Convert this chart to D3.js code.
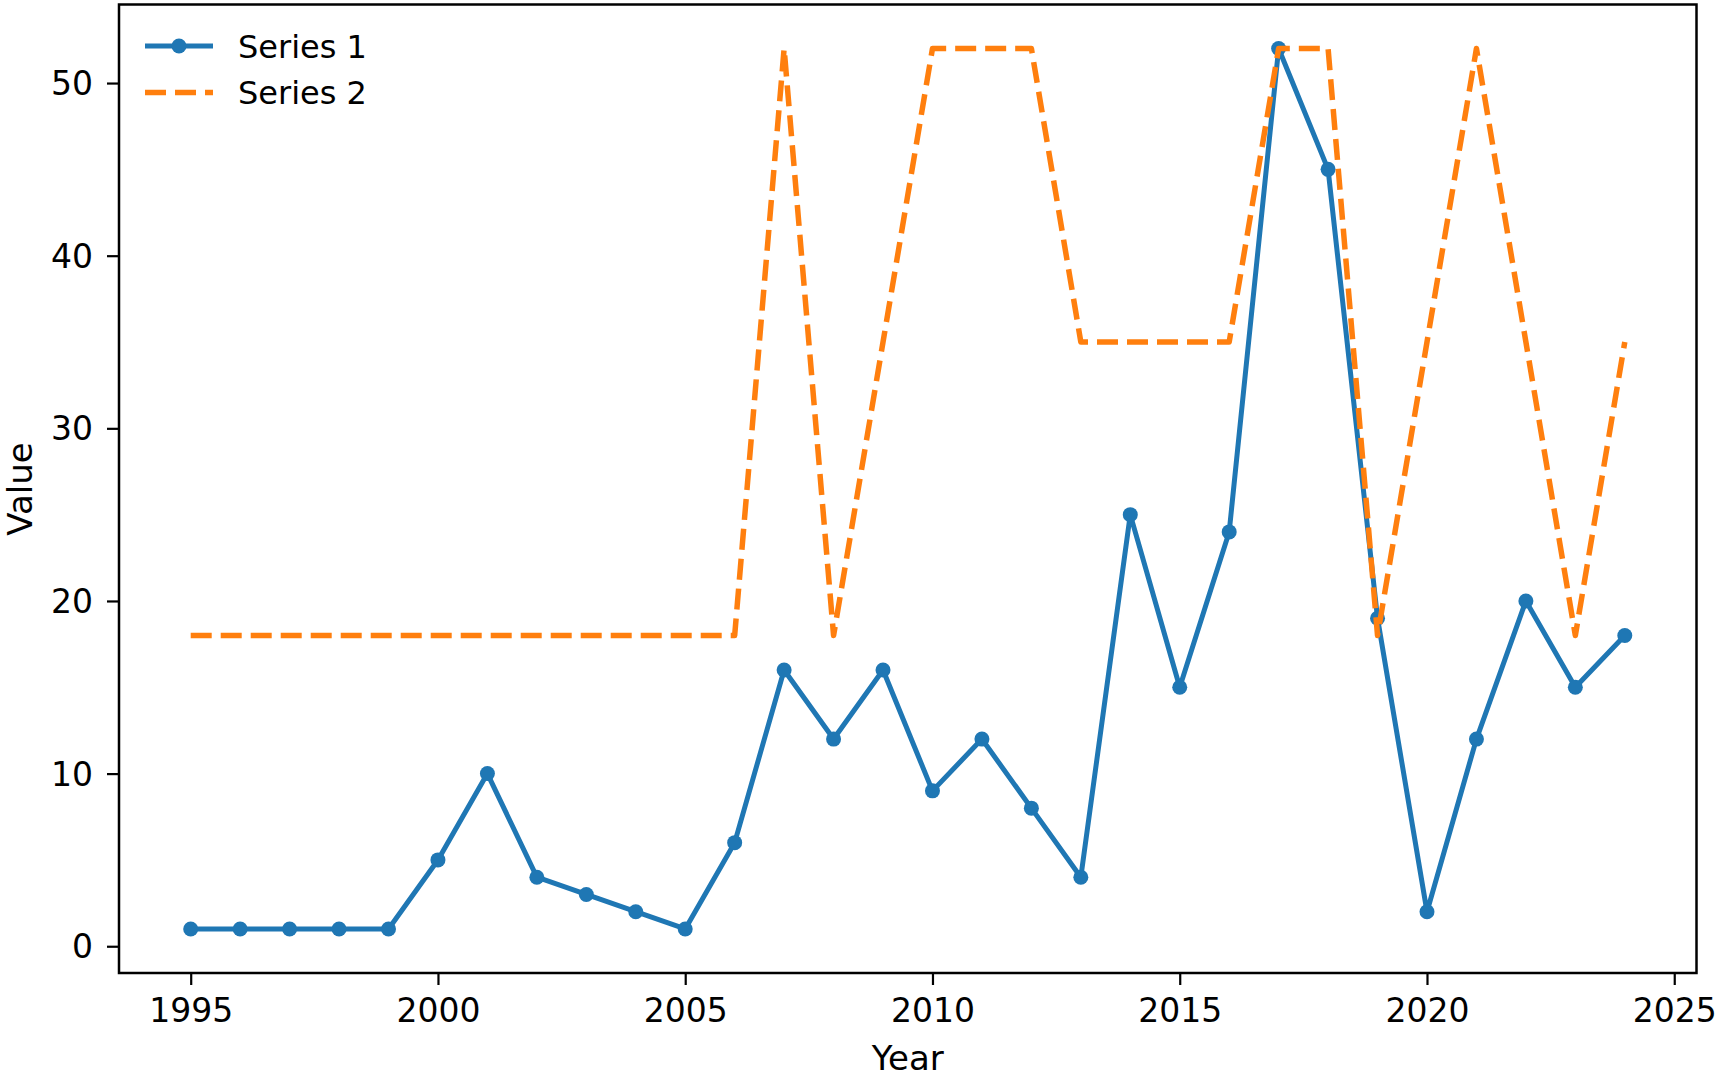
<!DOCTYPE html>
<html>
<head>
<meta charset="utf-8">
<script src="https://cdn.jsdelivr.net/npm/d3@7"></script>
<style>
  html, body { margin: 0; padding: 0; background: #fff; }
  svg { display: block; font-family: "DejaVu Sans", sans-serif; }
</style>
</head>
<body>
<svg id="chart" width="1715" height="1075"></svg>
<script>
// Data
const years = [1995, 1996, 1997, 1998, 1999, 2000, 2001, 2002, 2003, 2004,
  2005, 2006, 2007, 2008, 2009, 2010, 2011, 2012, 2013, 2014,
  2015, 2016, 2017, 2018, 2019, 2020, 2021, 2022, 2023, 2024];
const series1 = [1, 1, 1, 1, 1, 5, 10, 4, 3, 2,
  1, 6, 16, 12, 16, 9, 12, 8, 4, 25,
  15, 24, 52, 45, 19, 2, 12, 20, 15, 18];
const series2 = [18, 18, 18, 18, 18, 18, 18, 18, 18, 18,
  18, 18, 52, 18, 35, 52, 52, 52, 35, 35,
  35, 35, 52, 52, 18, 35, 52, 35, 18, 35];
const xTicks = [1995, 2000, 2005, 2010, 2015, 2020, 2025];
const yTicks = [0, 10, 20, 30, 40, 50];
const seriesNames = ['Series 1', 'Series 2'];

const blue = '#1f77b4';
const orange = '#ff7f0e';

const margin = { top: 4.5, right: 18.5, bottom: 102, left: 119 };
const width = 1715 - margin.left - margin.right;
const height = 1075 - margin.top - margin.bottom;

const svg = d3.select('#chart');
const g = svg.append('g')
  .attr('transform', `translate(${margin.left},${margin.top})`);

// matplotlib-style 5% padding on both axes
const xPad = (d3.max(years) - d3.min(years)) * 0.05;
const yMin = d3.min(series1.concat(series2));
const yMax = d3.max(series1.concat(series2));
const yPad = (yMax - yMin) * 0.05;

const x = d3.scaleLinear()
  .domain([d3.min(years) - xPad, d3.max(years) + xPad])
  .range([0, width]);

const y = d3.scaleLinear()
  .domain([yMin - yPad, yMax + yPad])
  .range([height, 0]);

// axes
const xAxis = g.append('g')
  .attr('transform', `translate(0,${height})`)
  .call(d3.axisBottom(x).tickValues(xTicks).tickFormat(d3.format('d'))
    .tickSize(12).tickPadding(14));

const yAxis = g.append('g')
  .call(d3.axisLeft(y).tickValues(yTicks).tickSize(12).tickPadding(14));

[xAxis, yAxis].forEach(a => {
  a.select('.domain').remove();
  a.selectAll('line').attr('stroke', '#000').attr('stroke-width', 2.2);
  a.selectAll('text')
    .attr('fill', '#000')
    .style('font-size', '33px')
    .style('font-family', '"DejaVu Sans", sans-serif');
});
yAxis.selectAll('text').attr('dy', '0.35em');

// plot frame
g.append('rect')
  .attr('x', 0).attr('y', 0)
  .attr('width', width).attr('height', height)
  .attr('fill', 'none')
  .attr('stroke', '#000')
  .attr('stroke-width', 2.5);

const line = d3.line()
  .x(d => x(d[0]))
  .y(d => y(d[1]));

const pts1 = years.map((yr, i) => [yr, series1[i]]);
const pts2 = years.map((yr, i) => [yr, series2[i]]);

// Series 1: solid with dots
g.append('path')
  .datum(pts1)
  .attr('d', line)
  .attr('fill', 'none')
  .attr('stroke', blue)
  .attr('stroke-width', 5)
  .attr('stroke-linejoin', 'round');

g.selectAll('.dot')
  .data(pts1)
  .enter()
  .append('circle')
  .attr('class', 'dot')
  .attr('cx', d => x(d[0]))
  .attr('cy', d => y(d[1]))
  .attr('r', 7.5)
  .attr('fill', blue);

// Series 2: dashed
g.append('path')
  .datum(pts2)
  .attr('d', line)
  .attr('fill', 'none')
  .attr('stroke', orange)
  .attr('stroke-width', 5.5)
  .attr('stroke-dasharray', '21,9')
  .attr('stroke-linejoin', 'round');

// axis labels
svg.append('text')
  .attr('x', margin.left + width / 2)
  .attr('y', 1070)
  .attr('text-anchor', 'middle')
  .style('font-size', '34px')
  .text('Year');

svg.append('text')
  .attr('transform', 'translate(32,489) rotate(-90)')
  .attr('text-anchor', 'middle')
  .style('font-size', '34px')
  .text('Value');

// legend
const legend = svg.append('g');
const rows = [46, 92.5];

legend.append('line')
  .attr('x1', 145).attr('x2', 213)
  .attr('y1', rows[0]).attr('y2', rows[0])
  .attr('stroke', blue).attr('stroke-width', 5);
legend.append('circle')
  .attr('cx', 179).attr('cy', rows[0]).attr('r', 7.5)
  .attr('fill', blue);

legend.append('line')
  .attr('x1', 145).attr('x2', 213)
  .attr('y1', rows[1]).attr('y2', rows[1])
  .attr('stroke', orange).attr('stroke-width', 5.5)
  .attr('stroke-dasharray', '21,9');

legend.selectAll('.ltext')
  .data(seriesNames)
  .enter()
  .append('text')
  .attr('class', 'ltext')
  .attr('x', 238)
  .attr('y', (d, i) => rows[i])
  .attr('dy', '0.36em')
  .style('font-size', '32px')
  .text(d => d);
</script>
</body>
</html>
